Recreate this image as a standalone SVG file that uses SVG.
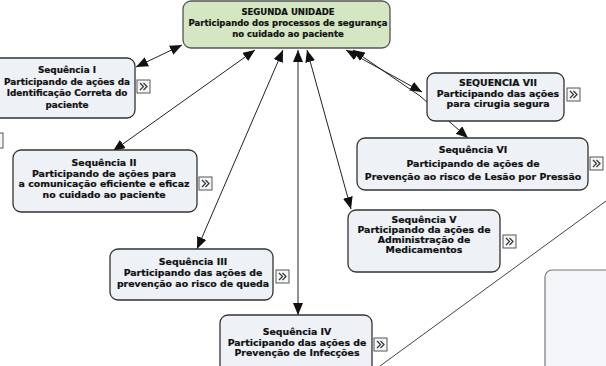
<svg xmlns="http://www.w3.org/2000/svg" width="606" height="366" viewBox="0 0 606 366">
  <defs>
    <marker id="ah" viewBox="0 0 12 10" refX="12" refY="5" markerWidth="12" markerHeight="10" markerUnits="userSpaceOnUse" orient="auto-start-reverse">
      <path d="M0,0 L12,5 L0,10 z" fill="#111"/>
    </marker>
    <g id="more">
      <rect x="0" y="0" width="13" height="13" fill="#f4f6f8" stroke="#555" stroke-width="1"/>
      <polyline points="3,3 6.5,6.5 3,10" fill="none" stroke="#333" stroke-width="1.2"/>
      <polyline points="6.5,3 10,6.5 6.5,10" fill="none" stroke="#333" stroke-width="1.2"/>
    </g>
  </defs>
  <style>
    .box { fill: #eef1f5; stroke: #333; stroke-width: 1.3; }
    .root { fill: #d4e7c2; stroke: #555; stroke-width: 1.3; }
    .t { font-family: "DejaVu Sans", Verdana, sans-serif; font-weight: bold; font-size: 9.4px; fill: #111; stroke: #111; stroke-width: 0.2; text-anchor: middle; }
    .r { font-size: 8.5px; }
    .s { font-size: 8.9px; }
    .link { fill: none; stroke: #222; stroke-width: 1; marker-start: url(#ah); marker-end: url(#ah); }
    .rule { fill: none; stroke: #444; stroke-width: 1; }
  </style>

  <rect width="606" height="366" fill="#ffffff"/>

  <!-- loose shapes at the edges of the canvas -->
  <line class="rule" x1="606" y1="201" x2="380" y2="366"/>
  <rect x="545" y="270" width="80" height="110" rx="7" fill="#f3f5f8" stroke="#777" stroke-width="1.2"/>
  <rect x="-10" y="133" width="13" height="15" fill="#f4f6f8" stroke="#555" stroke-width="1"/>

  <!-- connectors -->
  <g id="connectors">
    <path class="link" d="M136,67 L182,45"/>
    <path class="link" d="M113,151 L255,50"/>
    <path class="link" d="M197,249 L283,50"/>
    <path class="link" d="M298,315 L298,50"/>
    <path class="link" d="M351,209 L307,50"/>
    <path class="link" d="M346,50 L422,92"/>
    <path class="link" d="M353,50 L420,96 L468,138"/>
  </g>

  <g id="root">
    <rect class="root" x="183" y="1" width="207" height="47" rx="8"/>
    <text class="t r" x="288" y="15">SEGUNDA UNIDADE</text>
    <text class="t r" x="288" y="26">Participando dos processos de segurança</text>
    <text class="t r" x="288" y="37">no cuidado ao paciente</text>
  </g>

  <g id="seq1">
    <rect class="box" x="-10" y="58" width="145" height="60" rx="8"/>
    <text class="t s" x="67" y="73">Sequência I</text>
    <text class="t s" x="67" y="84.5">Participando de ações da</text>
    <text class="t s" x="67" y="96">Identificação Correta do</text>
    <text class="t s" x="67" y="107.5">paciente</text>
    <use href="#more" x="137" y="80"/>
  </g>

  <g id="seq2">
    <rect class="box" x="13" y="150" width="184" height="62" rx="8"/>
    <text class="t" x="104" y="166">Sequência II</text>
    <text class="t" x="104" y="176.5">Participando de ações para</text>
    <text class="t" x="104" y="187">a comunicação eficiente e eficaz</text>
    <text class="t" x="104" y="197.5">no cuidado ao paciente</text>
    <use href="#more" x="199" y="177"/>
  </g>

  <g id="seq3">
    <rect class="box" x="110" y="249" width="163" height="51" rx="8"/>
    <text class="t" x="193" y="265">Sequência III</text>
    <text class="t" x="193" y="276">Participando das ações de</text>
    <text class="t" x="193" y="287">prevenção ao risco de queda</text>
    <use href="#more" x="276" y="270"/>
  </g>

  <g id="seq4">
    <rect class="box" x="220" y="315" width="152" height="60" rx="8"/>
    <text class="t" x="297" y="335">Sequência IV</text>
    <text class="t" x="297" y="345.5">Participando das ações de</text>
    <text class="t" x="297" y="356">Prevenção de Infecções</text>
    <use href="#more" x="374" y="338"/>
  </g>

  <g id="seq5">
    <rect class="box" x="348" y="210" width="152" height="62" rx="8"/>
    <text class="t" x="424" y="223">Sequência V</text>
    <text class="t" x="424" y="233">Participando da ações de</text>
    <text class="t" x="424" y="243">Administração de</text>
    <text class="t" x="424" y="253">Medicamentos</text>
    <use href="#more" x="503" y="235"/>
  </g>

  <g id="seq6">
    <rect class="box" x="357" y="138" width="231" height="52" rx="8"/>
    <text class="t" x="473" y="153">Sequência VI</text>
    <text class="t" x="473" y="166.5">Participando de ações de</text>
    <text class="t" x="473" y="180">Prevenção ao risco de Lesão por Pressão</text>
    <use href="#more" x="590" y="157"/>
  </g>

  <g id="seq7">
    <rect class="box" x="427" y="73" width="137" height="48" rx="8"/>
    <text class="t" x="498" y="86">SEQUENCIA VII</text>
    <text class="t" x="498" y="96.5">Participando das ações</text>
    <text class="t" x="498" y="107">para cirugia segura</text>
    <use href="#more" x="567" y="88"/>
  </g>
</svg>
